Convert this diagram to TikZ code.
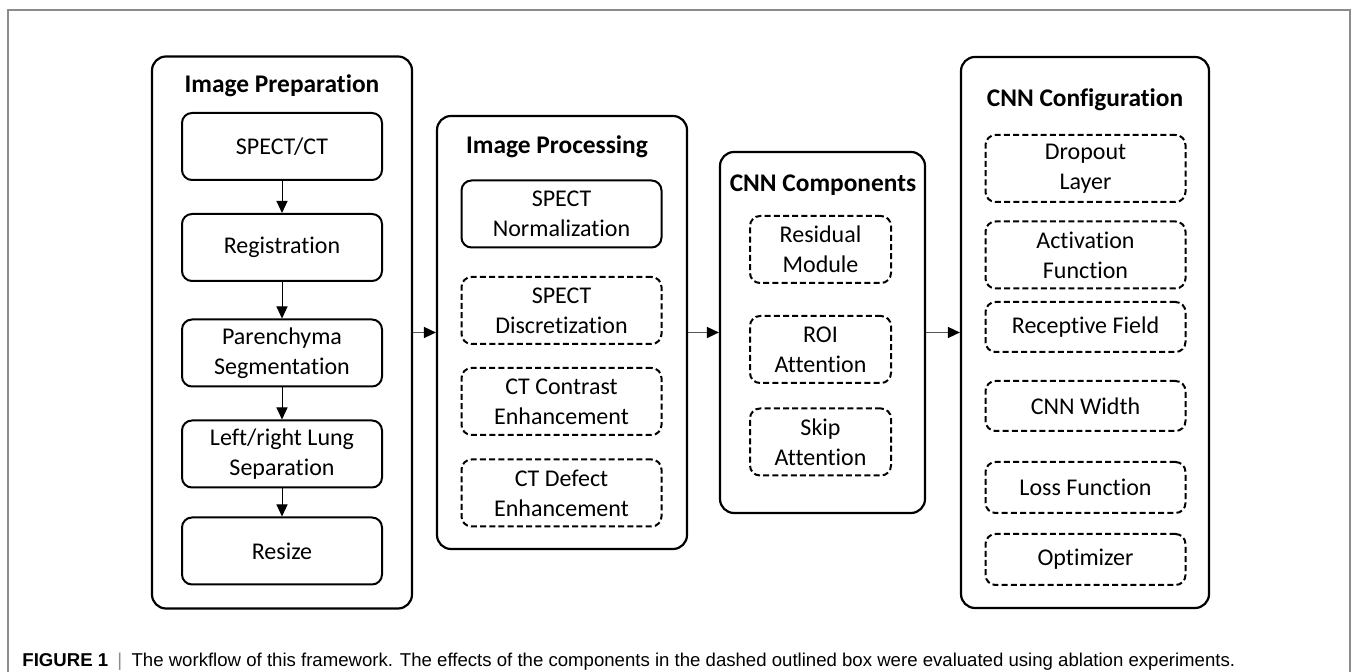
\documentclass[tikz,border=0pt]{standalone}
\usepackage{fontspec}
\setmainfont{Carlito}[Ligatures=NoCommon]
\newfontfamily\capfont{Liberation Sans}
\usetikzlibrary{arrows.meta}
\definecolor{framegray}{RGB}{140,140,140}
\definecolor{linkgray}{RGB}{85,85,85}
\tikzset{
  colbox/.style={draw, line width=1.1pt, rounded corners=7pt},
  coltitle/.style={font=\fontsize{12.7}{15}\selectfont\bfseries},
  plainbox/.style={draw, line width=1pt, rounded corners=5pt, minimum width=100pt,
    minimum height=33.5pt, align=center, inner sep=1pt, font=\fontsize{12}{15}\selectfont},
  ablbox/.style={plainbox, dash pattern=on 3pt off 1.6pt},
  flow/.style={line width=0.5pt, -{Triangle[length=6pt,width=5.5pt]}},
  link/.style={draw=linkgray, line width=0.8pt, -{Triangle[length=6pt,width=5.5pt,color=black]}}
}
\begin{document}
\begin{tikzpicture}[x=0.5pt, y=-0.5pt]
	\useasboundingbox (0,0) rectangle (1354,672);
	\draw[framegray, line width=0.7pt] (8,672) -- (8,10) -- (1350,10) -- (1350,672);

	% image preparation
	\node[colbox, minimum width=130pt, minimum height=276pt] (prep) at (282,332.5) {};
	\node[coltitle] (prept) at (282,86) {Image Preparation};
	\node[plainbox] (spect) at (282,146.5) {SPECT/CT};
	\node[plainbox] (reg) at (282,247.5) {Registration};
	\node[plainbox] (seg) at (282,353) {Parenchyma\\Segmentation};
	\node[plainbox] (sep) at (282,454) {Left/right Lung\\Separation};
	\node[plainbox] (resize) at (282,551) {Resize};
	\draw[flow] (spect) -- (reg);
	\draw[flow] (reg) -- (seg);
	\draw[flow] (seg) -- (sep);
	\draw[flow] (sep) -- (resize);

	% image processing
	\node[colbox, minimum width=125pt, minimum height=216.5pt] (proc) at (562,332.5) {};
	\node[coltitle] (proct) at (557,147) {Image Processing};
	\node[plainbox] (norm) at (561.5,214) {SPECT\\Normalization};
	\node[ablbox] (disc) at (561.5,310.5) {SPECT\\Discretization};
	\node[ablbox] (contr) at (561.5,401.5) {CT Contrast\\Enhancement};
	\node[ablbox] (defect) at (561.5,493) {CT Defect\\Enhancement};

	% cnn components
	\node[colbox, minimum width=102.5pt, minimum height=180.5pt] (comp) at (822.5,332.5) {};
	\node[coltitle] (compt) at (823,185) {CNN Components};
	\node[ablbox, minimum width=70.5pt] (resid) at (820.5,249.5) {Residual\\Module};
	\node[ablbox, minimum width=70.5pt] (roi) at (820.5,349.5) {ROI\\Attention};
	\node[ablbox, minimum width=70.5pt] (skip) at (820.5,442) {Skip\\Attention};

	% cnn configuration
	\node[colbox, minimum width=124pt, minimum height=275.5pt] (conf) at (1085,332.5) {};
	\node[coltitle] (conft) at (1085,100) {CNN Configuration};
	\node[ablbox] (drop) at (1085.5,168.5) {Dropout\\Layer};
	\node[ablbox] (act) at (1085.5,255) {Activation\\Function};
	\node[ablbox, minimum height=25pt] (field) at (1085.5,327) {Receptive Field};
	\node[ablbox, minimum height=25pt] (width) at (1085.5,406) {CNN Width};
	\node[ablbox, minimum height=25.5pt] (loss) at (1085.5,487.5) {Loss Function};
	\node[ablbox, minimum height=25.5pt] (optim) at (1085.5,559.5) {Optimizer};

	\draw[link] (prep) -- (proc);
	\draw[link] (proc) -- (comp);
	\draw[link] (comp) -- (conf);

	\node[anchor=base west, inner sep=0pt, font=\capfont\fontsize{9.3}{10}\selectfont] (cap) at (22,666.5)
		{\textbf{FIGURE 1}\enspace{\color{framegray}|}\enspace The workflow of this framework. The effects of the components in the dashed outlined box were evaluated using ablation experiments.};
\end{tikzpicture}
\end{document}
